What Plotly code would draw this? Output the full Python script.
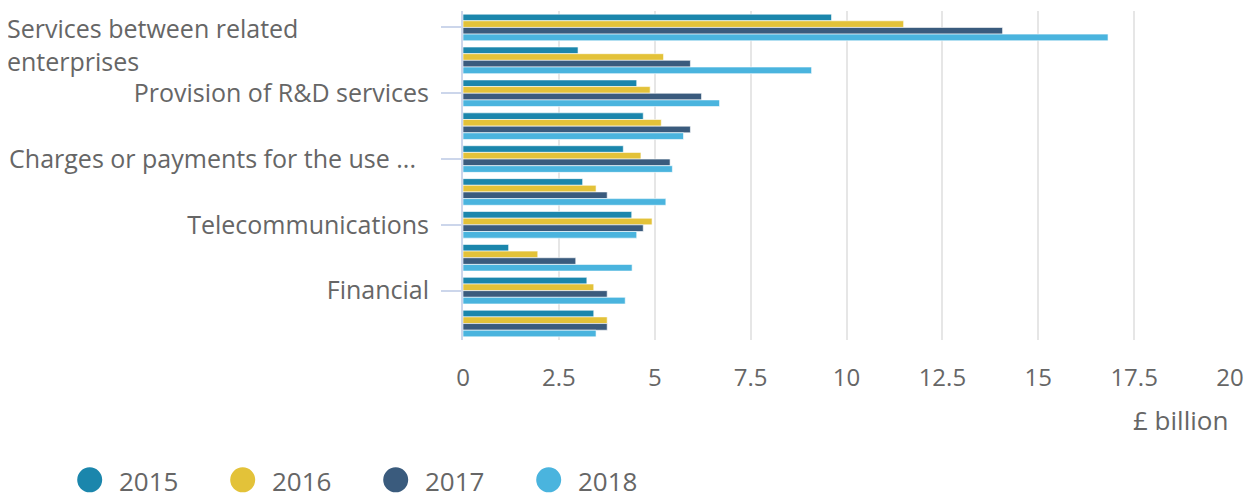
import plotly.graph_objects as go

categories = [
    "Services between related enterprises",
    "Technical, trade-related and other business services",
    "Provision of R&D services",
    "Legal, accounting, management consulting",
    "Charges or payments for the use of intellectual property",
    "Architectural, engineering and scientific services",
    "Telecommunications",
    "Advertising, market research and public opinion polling",
    "Financial",
    "Computer services",
]
shown_labels = {
    "Provision of R&D services": "Provision of R&D services",
    "Charges or payments for the use of intellectual property": "Charges or payments for the use ...\u00a0\u00a0",
    "Telecommunications": "Telecommunications",
    "Financial": "Financial",
}
wrapped_label = "Services between related<br>enterprises"

years = ["2015", "2016", "2017", "2018"]
v2015 = [9.61, 3.00, 4.53, 4.70, 4.18, 3.12, 4.40, 1.19, 3.23, 3.41]
v2016 = [11.49, 5.23, 4.88, 5.17, 4.64, 3.47, 4.93, 1.95, 3.41, 3.76]
v2017 = [14.07, 5.93, 6.22, 5.93, 5.40, 3.76, 4.70, 2.94, 3.76, 3.76]
v2018 = [16.82, 9.09, 6.69, 5.75, 5.46, 5.29, 4.53, 4.41, 4.23, 3.47]
values = [v2015, v2016, v2017, v2018]
colors = ["#1b86ac", "#e3c239", "#3a5b7d", "#4ab4de"]

x_ticks = [0, 2.5, 5, 7.5, 10, 12.5, 15, 17.5, 20]
x_title = "£ billion"

FONT = "Open Sans"
GREY = "#666666"

# the graph div sits 8px in from the page's top-left corner
OFF = 8
PAGE_W, PAGE_H = 1248, 494
W, H = PAGE_W - OFF, PAGE_H - OFF
P_LEFT, P_RIGHT, P_TOP, P_BOTTOM = 463, 1230, 10.5, 340   # plot area in page px
L = P_LEFT - OFF
R = W - (P_RIGHT - OFF)
T = P_TOP - OFF
B = H - (P_BOTTOM - OFF)
pw = P_RIGHT - P_LEFT
ph = P_BOTTOM - P_TOP


def px_to_paper_x(px):
    return (px - P_LEFT) / pw


def px_to_paper_y(py):
    return (P_BOTTOM - py) / ph


fig = go.Figure()
for name, vals, col in zip(years, values, colors):
    fig.add_trace(go.Bar(
        y=categories, x=vals, name=name, orientation="h",
        marker=dict(color=col, line=dict(color="rgba(255,255,255,0.6)", width=1)),
        showlegend=False,
    ))

tickvals = [categories[0]] + [c for c in categories if c in shown_labels]
ticktext = [""] + [shown_labels[c] for c in categories if c in shown_labels]

fig.update_layout(
    width=W, height=H,
    margin=dict(l=L, r=R, t=T, b=B, pad=0),
    paper_bgcolor="white", plot_bgcolor="white",
    barmode="group", bargap=0.19, bargroupgap=0,
    font=dict(family=FONT, color=GREY, size=24),
    xaxis=dict(
        range=[0, 20], tickvals=x_ticks, ticktext=[f"{t:g}" for t in x_ticks],
        showgrid=True, gridcolor="#e6e6e6", gridwidth=2,
        zeroline=False, showline=False, ticks="", ticklabelstandoff=21,
        ticklabeloverflow="allow",
        tickfont=dict(family=FONT, size=24, color=GREY),
        fixedrange=True,
    ),
    yaxis=dict(
        type="category", categoryorder="array", categoryarray=categories,
        autorange="reversed",
        tickvals=tickvals, ticktext=ticktext,
        showline=True, linecolor="#ccd6eb", linewidth=2,
        ticks="outside", ticklen=20, tickcolor="#ccd6eb", tickwidth=2,
        ticklabelstandoff=7,
        showgrid=False, zeroline=False,
        tickfont=dict(family=FONT, size=25, color=GREY),
    ),
    showlegend=False,
)

annotations = [
    dict(text=wrapped_label, xref="paper", yref="paper",
         x=px_to_paper_x(5), y=px_to_paper_y(8), xanchor="left", yanchor="top",
         align="left", showarrow=False,
         font=dict(family=FONT, size=25, color=GREY)),
    dict(text=x_title, xref="paper", yref="paper",
         x=1.0, y=px_to_paper_y(420), xanchor="right", yanchor="middle",
         showarrow=False, font=dict(family=FONT, size=26, color=GREY)),
]
shapes = []
legend_x0 = 89.7
legend_step = 153
for i, (name, col) in enumerate(zip(years, colors)):
    cx = legend_x0 + i * legend_step
    shapes.append(dict(type="circle", xref="paper", yref="paper",
                       xsizemode="pixel", ysizemode="pixel",
                       xanchor=px_to_paper_x(cx), yanchor=px_to_paper_y(480),
                       x0=-12.5, x1=12.5, y0=-12.5, y1=12.5,
                       fillcolor=col, line=dict(width=0)))
    annotations.append(dict(text=name, xref="paper", yref="paper",
                            x=px_to_paper_x(cx + 27), y=px_to_paper_y(481),
                            xanchor="left", yanchor="middle", showarrow=False,
                            font=dict(family=FONT, size=26, color=GREY)))

fig.update_layout(annotations=annotations, shapes=shapes)

fig.write_html(
    "out.html",
    config={"displayModeBar": False},
    post_script=(
        "document.body.style.margin='0';"
        "var g=document.getElementsByClassName('plotly-graph-div')[0];"
        "g.style.position='absolute';g.style.left='8px';g.style.top='8px';"
    ),
)
